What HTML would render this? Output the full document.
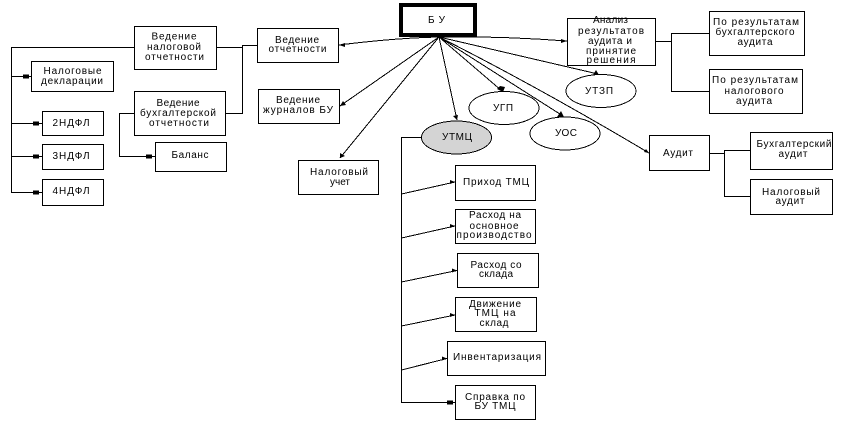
<!DOCTYPE html>
<html><head><meta charset="utf-8"><style>
html,body{margin:0;padding:0;background:#fff}
svg{display:block}
text{font-family:"Liberation Sans","DejaVu Sans",sans-serif;font-size:10px;fill:#000;text-anchor:middle}
.b rect{fill:#fff;stroke:#000;stroke-width:1;shape-rendering:crispEdges}
.o path,.o line{fill:none;stroke:#000;stroke-width:1;shape-rendering:crispEdges}
.d line,.d path{fill:none;stroke:#000;stroke-width:1;shape-rendering:crispEdges}
.a polygon,.a rect{fill:#000;stroke:none}
ellipse{stroke:#000;stroke-width:1;fill:#fff;shape-rendering:crispEdges}
</style></head><body>
<svg width="842" height="421" viewBox="0 0 842 421" xmlns="http://www.w3.org/2000/svg">
<rect width="842" height="421" fill="#fff"/>
<g class="o">
<path d="M134 47.5H11.5V192.5H42M11.5 76.5H31M11.5 123.5H42M11.5 156.5H42"/>
<path d="M216 47.5H242.5M257 45.5H242.5V113.5H226"/>
<path d="M134 113.5H119.5V156.5H155"/>
<path d="M421 137.5H401.5V402.5H455"/>
<path d="M655 41.5H671.5M709 33.5H671.5V91.5H709"/>
<path d="M709 153.5H724.5M750 150.5H724.5V196.5H750"/>
</g>
<g class="d">
<path d="M439 37Q395 38 339 45"/>
<path d="M439 37Q500 36 567 41"/>
<line x1="439" y1="37" x2="340" y2="106"/>
<line x1="439" y1="37" x2="340" y2="158"/>
<line x1="439" y1="37" x2="457" y2="120"/>
<line x1="439" y1="37" x2="502" y2="91"/>
<line x1="439" y1="37" x2="563" y2="116"/>
<line x1="439" y1="37" x2="598" y2="74"/>
<path d="M439 37Q540 88 649 153"/>
<line x1="401.5" y1="194" x2="455" y2="182"/>
<line x1="401.5" y1="238" x2="455" y2="226"/>
<line x1="401.5" y1="282" x2="457" y2="270.5"/>
<line x1="401.5" y1="326" x2="455" y2="315"/>
<line x1="401.5" y1="370" x2="447" y2="358.5"/>
</g>
<g class="a">
<rect x="23" y="74.5" width="6" height="4"/><rect x="33" y="121.5" width="6" height="4"/><rect x="33" y="154.5" width="6" height="4"/><rect x="33" y="190.5" width="6" height="4"/><rect x="146" y="154.5" width="6" height="4"/><rect x="447" y="400.5" width="6" height="4"/>
<polygon points="339,45 345,43 345,47"/>
<polygon points="567,41 561,39 561,43"/>
<polygon points="340,106 343,101 346,105"/>
<polygon points="340,158 340,153 345,156"/>
<polygon points="457,120 453,116 458,115"/>
<polygon points="503,92 497,89 500,86 505,87"/>
<polygon points="564,117 557,117 561,111"/>
<polygon points="599,75 593,75 596,70"/>
<polygon points="649,153 644,152 646,149"/>
<polygon points="455,182 450,180 450,184"/>
<polygon points="455,226 450,224 450,228"/>
<polygon points="457,270.5 452,268.5 452,272.5"/>
<polygon points="455,315 450,313 450,317"/>
<polygon points="447,358.5 442,356.5 442,360.5"/>
</g>
<g class="b">
<rect x="134.5" y="26.5" width="82" height="43"/>
<rect x="31.5" y="61.5" width="82" height="30"/>
<rect x="42.5" y="111.5" width="61" height="24"/>
<rect x="42.5" y="144.5" width="61" height="25"/>
<rect x="42.5" y="179.5" width="61" height="26"/>
<rect x="134.5" y="91.5" width="91" height="44"/>
<rect x="155.5" y="142.5" width="71" height="29"/>
<rect x="257.5" y="28.5" width="81" height="34"/>
<rect x="258.5" y="89.5" width="81" height="34"/>
<rect x="298.5" y="160.5" width="80" height="34"/>
<rect x="567.5" y="18.5" width="88" height="47"/>
<rect x="709.5" y="11.5" width="95" height="44"/>
<rect x="709.5" y="69.5" width="93" height="44"/>
<rect x="649.5" y="135.5" width="60" height="35"/>
<rect x="750.5" y="132.5" width="82" height="37"/>
<rect x="750.5" y="179.5" width="82" height="35"/>
<rect x="455.5" y="165.5" width="80" height="35"/>
<rect x="455.5" y="209.5" width="80" height="34"/>
<rect x="457.5" y="253.5" width="81" height="34"/>
<rect x="455.5" y="297.5" width="81" height="34"/>
<rect x="447.5" y="341.5" width="98" height="34"/>
<rect x="455.5" y="385.5" width="80" height="34"/>
</g>
<rect x="401" y="5" width="74" height="30" fill="#fff" stroke="#000" stroke-width="4"/>
<ellipse cx="504" cy="108" rx="35" ry="16.5"/>
<ellipse cx="456.5" cy="137.5" rx="35" ry="16.5" style="fill:#d4d4d4"/>
<ellipse cx="565" cy="133.5" rx="35" ry="16.5"/>
<ellipse cx="601" cy="91" rx="35" ry="16.5"/>
<g>
<text x="436.5" y="23" textLength="17">Б У</text>
<text x="174" y="39.5" textLength="45">Ведение</text>
<text x="174" y="50" textLength="54">налоговой</text>
<text x="174.5" y="60" textLength="59">отчетности</text>
<text x="72.5" y="74" textLength="58">Налоговые</text>
<text x="72" y="84" textLength="62">декларации</text>
<text x="71" y="126" textLength="37">2НДФЛ</text>
<text x="71" y="159" textLength="37">3НДФЛ</text>
<text x="71" y="194" textLength="37">4НДФЛ</text>
<text x="178" y="106" textLength="43">Ведение</text>
<text x="178" y="116" textLength="76">бухгалтерской</text>
<text x="179" y="126" textLength="60">отчетности</text>
<text x="190" y="158" textLength="37">Баланс</text>
<text x="297" y="43" textLength="44">Ведение</text>
<text x="297.5" y="52" textLength="58">отчетности</text>
<text x="298" y="103" textLength="44">Ведение</text>
<text x="298" y="113" textLength="70">журналов БУ</text>
<text x="339" y="175" textLength="58">Налоговый</text>
<text x="340" y="185" textLength="20">учет</text>
<text x="503" y="111" textLength="20">УГП</text>
<text x="457" y="140" textLength="30">УТМЦ</text>
<text x="566" y="136" textLength="22">УОС</text>
<text x="599" y="94" textLength="28">УТЗП</text>
<text x="610.5" y="23" textLength="35">Анализ</text>
<text x="611" y="34" textLength="66">результатов</text>
<text x="610" y="44" textLength="44">аудита и</text>
<text x="611" y="54" textLength="50">принятие</text>
<text x="611" y="63" textLength="49">решения</text>
<text x="756" y="25" textLength="86">По результатам</text>
<text x="755" y="35" textLength="79">бухгалтерского</text>
<text x="755" y="45" textLength="35">аудита</text>
<text x="755" y="83" textLength="86">По результатам</text>
<text x="754" y="94" textLength="59">налогового</text>
<text x="754" y="104" textLength="36">аудита</text>
<text x="678" y="156" textLength="30">Аудит</text>
<text x="794" y="147" textLength="75">Бухгалтерский</text>
<text x="793" y="157" textLength="29">аудит</text>
<text x="791" y="195" textLength="58">Налоговый</text>
<text x="790" y="204" textLength="29">аудит</text>
<text x="496" y="185" textLength="66">Приход ТМЦ</text>
<text x="495" y="218" textLength="52">Расход на</text>
<text x="494" y="229" textLength="49">основное</text>
<text x="494" y="238" textLength="75">производство</text>
<text x="496" y="268" textLength="51">Расход со</text>
<text x="496" y="277" textLength="34">склада</text>
<text x="495" y="307" textLength="52">Движение</text>
<text x="495" y="316" textLength="41">ТМЦ на</text>
<text x="494" y="326" textLength="29">склад</text>
<text x="497" y="360" textLength="88">Инвентаризация</text>
<text x="495" y="400" textLength="60">Справка по</text>
<text x="495" y="409" textLength="41">БУ ТМЦ</text>
</g>
</svg>
</body></html>
